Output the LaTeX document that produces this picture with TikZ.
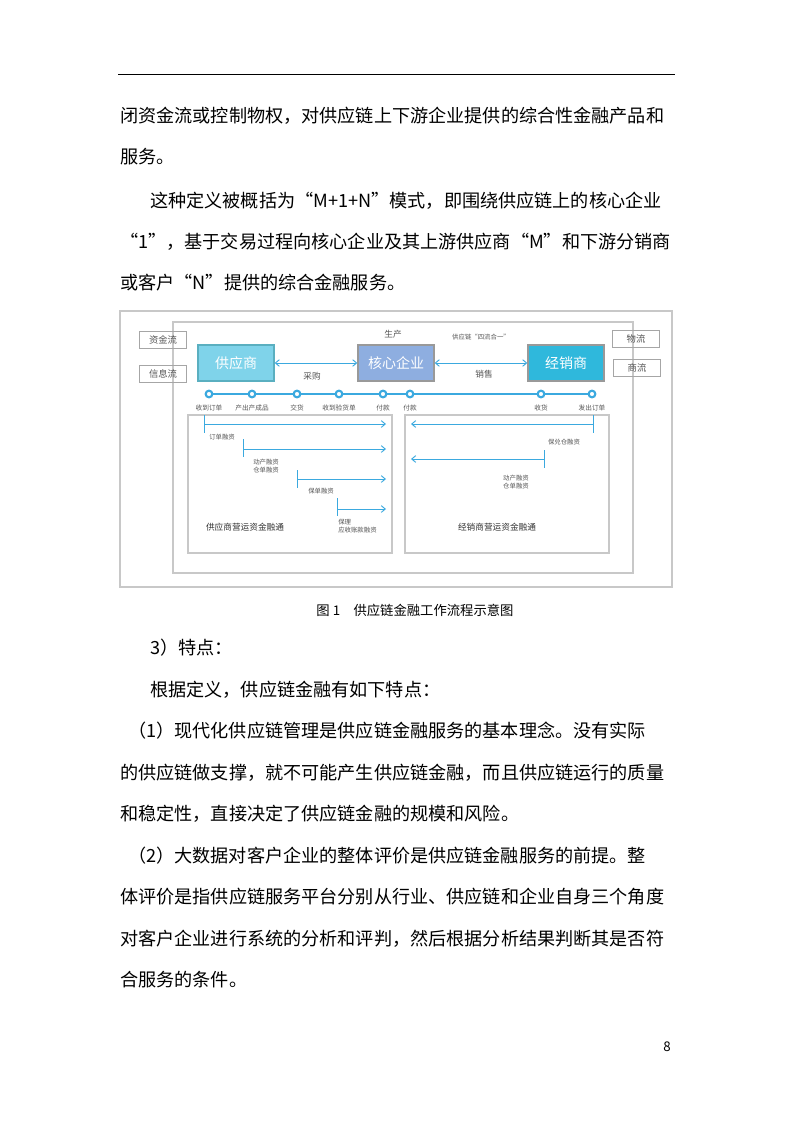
\documentclass[tikz,border=0pt]{standalone}
\usepackage{fontspec}
\setmainfont{Noto Sans CJK SC}
\usetikzlibrary{arrows.meta}
\definecolor{ln}{HTML}{3BA9DF}
\definecolor{bx}{HTML}{C8C8C8}
\definecolor{tx}{HTML}{555555}
\definecolor{cA}{HTML}{7FD3EA}
\definecolor{cAb}{HTML}{5AAFC0}
\definecolor{cB}{HTML}{8EAEE0}
\definecolor{cC}{HTML}{2FB8DC}
\begin{document}
\begin{tikzpicture}[x=0.75pt,y=-0.75pt,
 body/.style={anchor=west,inner sep=0,font=\fontsize{13.6}{16}\selectfont},
 tag/.style={draw=gray!70,line width=0.8pt,minimum width=35pt,minimum height=13pt,inner sep=0,font=\fontsize{7}{8}\selectfont,text=tx},
 ent/.style={draw=gray!80,line width=1pt,minimum width=57pt,minimum height=27pt,inner sep=0,text=white,font=\fontsize{10.5}{12}\selectfont},
 sm/.style={inner sep=0,font=\fontsize{4.8}{6}\selectfont,text=tx,align=left},
 dot/.style={circle,draw=ln,fill=white,line width=1.6pt,minimum size=5pt,inner sep=0},
 fl/.style={ln,line width=0.7pt,-{Straight Barb[length=3pt,width=5pt]}},
 tk/.style={ln,line width=0.7pt}]
\useasboundingbox (0,0) rectangle (793,1122);
\fill[white] (0,0) rectangle (793,1122);
\draw[line width=0.6pt] (118,74) -- (675,74);
\node[body] (l1) at (120,116) {闭资金流或控制物权，对供应链上下游企业提供的综合性金融产品和};
\node[body] (l2) at (120,157) {服务。};
\node[body] (l3) at (150,201) {这种定义被概括为“M+1+N”模式，即围绕供应链上的核心企业};
\node[body] (l4) at (120,242) {“1”，基于交易过程向核心企业及其上游供应商“M”和下游分销商};
\node[body] (l5) at (120,283) {或客户“N”提供的综合金融服务。};
% figure
\draw[bx,line width=0.8pt] (120,311) rectangle (672,587);
\draw[bx,line width=0.8pt] (173,322) rectangle (633,573);
\node[tag] (zj) at (163,340) {资金流};
\node[tag] (xx) at (163,374) {信息流};
\node[tag] (wl) at (636,339) {物流};
\node[tag] (sl) at (637,368) {商流};
\node[ent,fill=cA,draw=cAb] (gys) at (236,363) {供应商};
\node[ent,fill=cB] (hx) at (396,363) {核心企业};
\node[ent,fill=cC] (jxs) at (566,363) {经销商};
\draw[ln,line width=0.7pt,{Straight Barb[length=3pt,width=5pt]}-{Straight Barb[length=3pt,width=5pt]}] (gys.east) -- (hx.west);
\draw[ln,line width=0.7pt,{Straight Barb[length=3pt,width=5pt]}-{Straight Barb[length=3pt,width=5pt]}] (hx.east) -- (jxs.west);
\node[sm,font=\fontsize{6.5}{8}\selectfont] (sc) at (393,334) {生产};
\node[sm] (sl4) at (481,337) {供应链“四流合一”};
\node[sm,font=\fontsize{6.5}{8}\selectfont] (cg) at (312,376) {采购};
\node[sm,font=\fontsize{6.5}{8}\selectfont] (xs) at (484,374) {销售};
\draw[ln,line width=1pt] (209,394) -- (592,394);
\foreach \x/\t [count=\i] in {209/收到订单,252/产出产成品,297/交货,339/收到验货单,383/付款,410/付款,541/收货,592/发出订单}{
 \node[dot] (d\i) at (\x,394) {};
 \node[sm,font=\fontsize{5}{6}\selectfont] (t\i) at (\x,408) {\t};
}
\draw[bx,line width=0.8pt] (188,415) rectangle (392,553);
\draw[bx,line width=0.8pt] (405,415) rectangle (609,553);
% left
\coordinate (a1) at (204,424); \coordinate (b1) at (386,424);
\draw[tk] (204,415) -- (204,433); \draw[fl] (a1) -- (b1);
\node[sm,anchor=west] (o1) at (209,437) {订单融资};
\coordinate (a2) at (243,449); \coordinate (b2) at (386,449);
\draw[tk] (243,439) -- (243,457); \draw[fl] (a2) -- (b2);
\node[sm,anchor=west] (o2) at (253,466) {动产融资\\仓单融资};
\coordinate (a3) at (297,479); \coordinate (b3) at (386,479);
\draw[tk] (297,470) -- (297,488); \draw[fl] (a3) -- (b3);
\node[sm,anchor=west] (o3) at (308,491) {保单融资};
\coordinate (a4) at (337,509); \coordinate (b4) at (386,509);
\draw[tk] (337,498) -- (337,516); \draw[fl] (a4) -- (b4);
\node[sm,anchor=west] (o4) at (338,526) {保理\\应收账款融资};
\node[sm,font=\fontsize{6.5}{8}\selectfont,text=black!80] (lf) at (245,527) {供应商营运资金融通};
% right
\coordinate (a5) at (593,424); \coordinate (b5) at (411,424);
\draw[tk] (593,415) -- (593,433); \draw[fl] (a5) -- (b5);
\node[sm] (o5) at (564,442) {保兑仓融资};
\coordinate (a6) at (544,459); \coordinate (b6) at (411,459);
\draw[tk] (544,450) -- (544,468); \draw[fl] (a6) -- (b6);
\node[sm] (o6) at (516,482) {动产融资\\仓单融资};
\node[sm,font=\fontsize{6.5}{8}\selectfont,text=black!80] (rf) at (497,527) {经销商营运资金融通};
\node[inner sep=0,font=\fontsize{10}{12}\selectfont] (cap) at (415,610) {图 1\quad 供应链金融工作流程示意图};
% text below
\node[body] (m1) at (150,648) {3）特点：};
\node[body] (m2) at (150,690) {根据定义，供应链金融有如下特点：};
\node[body] (m3) at (128,731) {（1）现代化供应链管理是供应链金融服务的基本理念。没有实际};
\node[body] (m4) at (120,773) {的供应链做支撑，就不可能产生供应链金融，而且供应链运行的质量};
\node[body] (m5) at (120,814) {和稳定性，直接决定了供应链金融的规模和风险。};
\node[body] (m6) at (128,856) {（2）大数据对客户企业的整体评价是供应链金融服务的前提。整};
\node[body] (m7) at (120,897) {体评价是指供应链服务平台分别从行业、供应链和企业自身三个角度};
\node[body] (m8) at (120,939) {对客户企业进行系统的分析和评判，然后根据分析结果判断其是否符};
\node[body] (m9) at (120,980) {合服务的条件。};
\node[inner sep=0,font=\fontsize{10}{12}\selectfont] (pg) at (667,1047) {8};
\end{tikzpicture}
\end{document}
